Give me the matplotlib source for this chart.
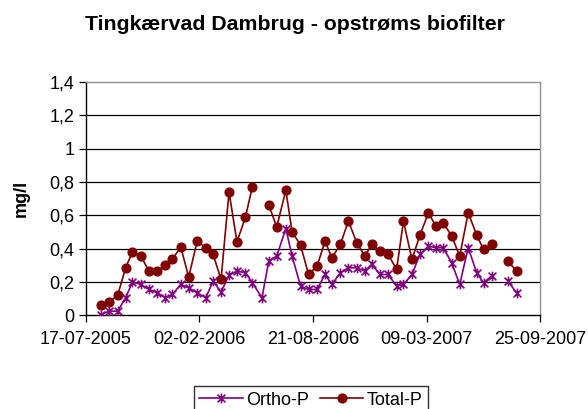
import numpy as np
import pandas as pd
import matplotlib
matplotlib.use("Agg")
import matplotlib.pyplot as plt
from matplotlib.path import Path

plt.rcParams['font.family'] = ['Liberation Sans', 'DejaVu Sans']

title = "Tingkærvad Dambrug - opstrøms biofilter"
ylabel = "mg/l"

dates = [
    "2005-08-12", "2005-08-27", "2005-09-11", "2005-09-25", "2005-10-07", "2005-10-22",
    "2005-11-05", "2005-11-20", "2005-12-04", "2005-12-16", "2005-12-31", "2006-01-14",
    "2006-01-29", "2006-02-13", "2006-02-26", "2006-03-12", "2006-03-26", "2006-04-09",
    "2006-04-24", "2006-05-06", "2006-05-23", "2006-06-04", "2006-06-18", "2006-07-04",
    "2006-07-15", "2006-07-30", "2006-08-13", "2006-08-28", "2006-09-11", "2006-09-23",
    "2006-10-08", "2006-10-22", "2006-11-06", "2006-11-20", "2006-12-02", "2006-12-17",
    "2006-12-31", "2007-01-15", "2007-01-27", "2007-02-11", "2007-02-25", "2007-03-12",
    "2007-03-25", "2007-04-07", "2007-04-22", "2007-05-06", "2007-05-21", "2007-06-05",
    "2007-06-17", "2007-07-01", "2007-07-16", "2007-07-30", "2007-08-14",
]

nan = np.nan
total_p = [
    0.06, 0.08, 0.12, 0.285, 0.38, 0.355, 0.265, 0.265, 0.30, 0.335, 0.41, 0.23,
    0.445, 0.405, 0.365, 0.215, 0.74, 0.44, 0.59, 0.77, nan, 0.66, 0.53, 0.75,
    0.50, 0.42, 0.245, 0.295, 0.445, 0.345, 0.425, 0.565, 0.435, 0.355, 0.425, 0.385,
    0.365, 0.275, 0.565, 0.335, 0.48, 0.615, 0.535, 0.555, 0.475, 0.355, 0.615, 0.48,
    0.395, 0.425, nan, 0.325, 0.265,
]
ortho_p = [
    0.005, 0.025, 0.025, 0.105, 0.20, 0.185, 0.155, 0.135, 0.105, 0.125, 0.185, 0.165,
    0.135, 0.105, 0.205, 0.14, 0.24, 0.265, 0.255, 0.195, 0.105, 0.325, 0.355, 0.52,
    0.355, 0.175, 0.155, 0.155, 0.245, 0.185, 0.255, 0.285, 0.285, 0.265, 0.305, 0.245,
    0.245, 0.175, 0.185, 0.245, 0.365, 0.415, 0.405, 0.405, 0.315, 0.185, 0.405, 0.255,
    0.195, 0.235, nan, 0.205, 0.135,
]

x_ticks = ["2005-07-17", "2006-02-02", "2006-08-21", "2007-03-09", "2007-09-25"]
x_tick_labels = ["17-07-2005", "02-02-2006", "21-08-2006", "09-03-2007", "25-09-2007"]
y_ticks = [0, 0.2, 0.4, 0.6, 0.8, 1.0, 1.2, 1.4]
y_tick_labels = ["0", "0,2", "0,4", "0,6", "0,8", "1", "1,2", "1,4"]

series_names = ["Ortho-P", "Total-P"]

d = pd.to_datetime(dates)
xt = pd.to_datetime(x_ticks)

fig = plt.figure(figsize=(5.88, 4.09), dpi=100)
ax = fig.add_axes([0.146, 0.229, 0.773, 0.571])

star = Path([(-1, -1), (1, 1), (-1, 1), (1, -1), (0, -1.25), (0, 1.25)],
            [Path.MOVETO, Path.LINETO, Path.MOVETO, Path.LINETO, Path.MOVETO, Path.LINETO])

purple = "#800080"
darkred = "#800000"

ax.plot(d, ortho_p, color=purple, lw=1.2, marker=star, markersize=7,
        markeredgewidth=1.2, markeredgecolor=purple, markerfacecolor='none',
        label=series_names[0], zorder=3)
ax.plot(d, total_p, color=darkred, lw=1.2, marker='o', markersize=6.3,
        markeredgecolor=darkred, markerfacecolor=darkred,
        label=series_names[1], zorder=4)

ax.set_xlim(xt[0], xt[-1])
ax.set_ylim(0, 1.4)
ax.set_xticks(xt)
ax.set_xticklabels(x_tick_labels)
ax.set_yticks(y_ticks)
ax.set_yticklabels(y_tick_labels)

for y in y_ticks[1:-1]:
    ax.axhline(y, color='black', lw=0.9, zorder=1)

ax.tick_params(axis='both', labelsize=13, length=5, width=0.9, direction='out', color='black')
ax.tick_params(axis='x', pad=6)
ax.tick_params(axis='y', pad=3)

ax.spines['left'].set_color('black')
ax.spines['bottom'].set_color('black')
ax.spines['top'].set_color('#909090')
ax.spines['right'].set_color('#909090')
for s in ax.spines.values():
    s.set_linewidth(1.0)

ax.set_ylabel(ylabel, fontsize=13, fontweight='bold', labelpad=14)
fig.suptitle(title, fontsize=15.3, fontweight='bold', x=0.502, y=0.963)

leg = fig.legend(loc='upper center', bbox_to_anchor=(0.529, 0.078), ncol=2,
                 fontsize=13, frameon=True, fancybox=False, edgecolor='black',
                 handlelength=2.4, handletextpad=0.2, columnspacing=0.6,
                 borderpad=0.3)
leg.get_frame().set_linewidth(1.0)

fig.savefig("out.png", dpi=100)
